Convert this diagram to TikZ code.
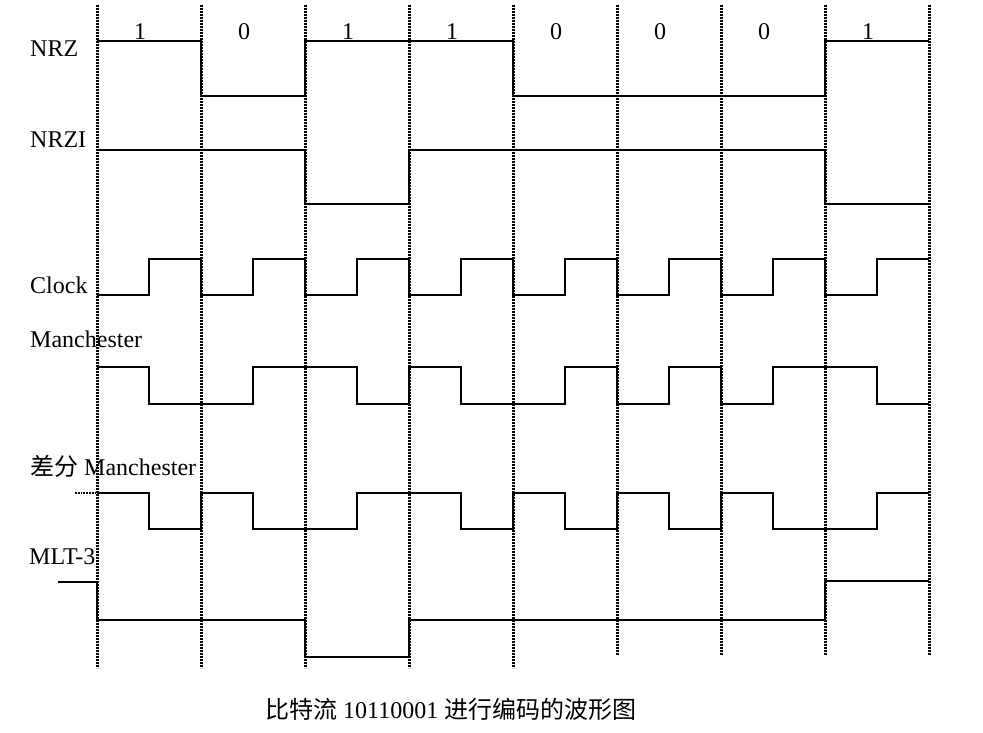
\documentclass[tikz,border=0pt]{standalone}
\usepackage{fontspec}
\setmainfont{Liberation Serif}
\newfontfamily\cjk{Noto Sans CJK SC}
\begin{document}
\begin{tikzpicture}[x=1pt,y=-1pt,
  wave/.style={line width=1.3pt, line join=miter},
  gridline/.style={line width=3pt, dash pattern=on 2pt off 1pt},
  lbl/.style={anchor=base west, inner sep=0pt, font=\fontsize{24}{28}\selectfont},
  bit/.style={anchor=base, inner sep=0pt, font=\fontsize{24}{28}\selectfont}]
\useasboundingbox (0,0) rectangle (983,733);
% bit labels
\foreach \b [count=\i from 0] in {1,0,1,1,0,0,0,1}
  \node[bit] (bit\i) at ({140+104*\i},40) {\b};
% labels
\node[lbl] (lnrz) at (30,57) {NRZ};
\node[lbl] (lnrzi) at (30,148) {NRZI};
\node[lbl] (lclock) at (30,293) {Clock};
\node[lbl] (lman) at (30,347) {Manchester};
\node[lbl] (ldman) at (30,475) {{\cjk 差分} Manchester};
\node[lbl] (lmlt) at (29,564) {MLT-3};
\node[lbl] (cap) at (265,718) {{\cjk 比特流} 10110001 {\cjk 进行编码的波形图}};
% NRZ
\draw[wave] (97,41) -- (201,41) -- (201,96) -- (305,96) -- (305,41) -- (513,41) -- (513,96) -- (825,96) -- (825,41) -- (929,41);
% NRZI
\draw[wave] (97,150) -- (305,150) -- (305,204) -- (409,204) -- (409,150) -- (825,150) -- (825,204) -- (929,204);
% Clock
\draw[wave] (97,295) -- (149,295) -- (149,259) -- (201,259);
\foreach \k in {1,...,7}
  \draw[wave] ({97+104*\k},259) -- ++(0,36) -- ++(52,0) -- ++(0,-36) -- ++(52,0);
% Manchester
\draw[wave] (97,367) -- (149,367) -- (149,404) -- (201,404) -- (253,404) -- (253,367) -- (305,367)
  -- (357,367) -- (357,404) -- (409,404) -- (409,367) -- (461,367) -- (461,404) -- (513,404)
  -- (565,404) -- (565,367) -- (617,367) -- (617,404) -- (669,404) -- (669,367) -- (721,367)
  -- (721,404) -- (773,404) -- (773,367) -- (825,367) -- (877,367) -- (877,404) -- (929,404);
% Differential Manchester
\draw[line width=2.6pt, dash pattern=on 1.8pt off 1pt] (75,493) -- (97,493);
\draw[wave] (97,493) -- (149,493) -- (149,529) -- (201,529) -- (201,493) -- (253,493) -- (253,529) -- (305,529)
  -- (357,529) -- (357,493) -- (409,493) -- (461,493) -- (461,529) -- (513,529) -- (513,493) -- (565,493)
  -- (565,529) -- (617,529) -- (617,493) -- (669,493) -- (669,529) -- (721,529) -- (721,493) -- (773,493)
  -- (773,529) -- (825,529) -- (877,529) -- (877,493) -- (929,493);
% MLT-3
\draw[wave] (58,582) -- (97,582) -- (97,620) -- (305,620) -- (305,657) -- (409,657) -- (409,620) -- (825,620) -- (825,581) -- (929,581);
% grid
\foreach \k in {0,...,4} \draw[gridline] ({97+104*\k},5) -- ({97+104*\k},668);
\foreach \k in {5,...,8} \draw[gridline] ({97+104*\k},5) -- ({97+104*\k},655);
\end{tikzpicture}
\end{document}
